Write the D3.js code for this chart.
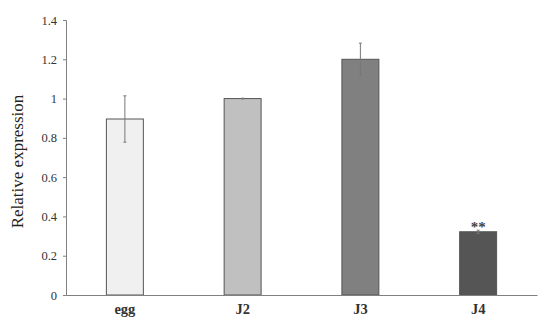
<!DOCTYPE html>
<html>
<head>
<meta charset="utf-8">
<script src="https://cdn.jsdelivr.net/npm/d3@7"></script>
<style>
  body { margin: 0; background: #fff; }
  svg text { font-family: "Liberation Serif", "Times New Roman", Times, serif; }
</style>
</head>
<body>
<div id="chart"></div>
<script>
// data
let stages = ["egg", "J2", "J3", "J4"];
let expression = [0.896, 1.0, 1.2, 0.322];
let errors = [0.118, 0.002, 0.082, 0.008];
let marks = ["", "", "", "**"];
let fills = ["#f0f0f0", "#c0c0c0", "#808080", "#555555"];
let yTicks = [0, 0.2, 0.4, 0.6, 0.8, 1, 1.2, 1.4];

let width = 550;
let height = 328;
let margin = {top: 20, right: 13, bottom: 33, left: 66};

let svg = d3.select("#chart")
    .append("svg")
    .attr("width", width)
    .attr("height", height);

let x = d3.scaleBand()
    .domain(stages)
    .range([margin.left, width - margin.right])
    .paddingInner(0.686)
    .paddingOuter(0.343);

let y = d3.scaleLinear()
    .domain([0, 1.4])
    .range([height - margin.bottom, margin.top]);

// y axis
let yAxis = svg.append("g")
    .attr("transform", `translate(${margin.left},0)`)
    .call(d3.axisLeft(y).tickValues(yTicks).tickSize(3).tickPadding(6)
        .tickFormat(d => String(+d.toFixed(1))));
yAxis.attr("font-family", null);
yAxis.select(".domain").attr("stroke", "#808080");
yAxis.selectAll(".tick line").attr("stroke", "#808080");
yAxis.selectAll(".tick text")
    .attr("font-size", 12.5)
    .attr("fill", "#333");

// bars
let data = stages.map((s, i) => ({stage: s, value: expression[i], err: errors[i], mark: marks[i], fill: fills[i]}));

svg.selectAll(".bar")
    .data(data)
    .enter()
    .append("rect")
    .attr("class", "bar")
    .attr("x", d => x(d.stage))
    .attr("y", d => y(d.value))
    .attr("width", x.bandwidth())
    .attr("height", d => y(0) - y(d.value))
    .attr("fill", d => d.fill)
    .attr("stroke", "#555")
    .attr("stroke-width", 1);

// error bars
let errG = svg.selectAll(".err")
    .data(data)
    .enter()
    .append("g")
    .attr("class", "err")
    .attr("stroke", "#777")
    .attr("stroke-width", 1);
errG.append("line")
    .attr("x1", d => x(d.stage) + x.bandwidth() / 2)
    .attr("x2", d => x(d.stage) + x.bandwidth() / 2)
    .attr("y1", d => y(d.value - d.err))
    .attr("y2", d => y(d.value + d.err));
[-1, 1].forEach(sign => {
    errG.append("line")
        .attr("x1", d => x(d.stage) + x.bandwidth() / 2 - 1.5)
        .attr("x2", d => x(d.stage) + x.bandwidth() / 2 + 1.5)
        .attr("y1", d => y(d.value + sign * d.err))
        .attr("y2", d => y(d.value + sign * d.err));
});

// significance marks
svg.selectAll(".mark")
    .data(data)
    .enter()
    .append("text")
    .attr("class", "mark")
    .attr("x", d => x(d.stage) + x.bandwidth() / 2)
    .attr("y", d => y(d.value + d.err) + 2)
    .attr("text-anchor", "middle")
    .attr("font-size", 15)
    .attr("font-weight", "bold")
    .attr("fill", "#444")
    .text(d => d.mark);

// x axis
let xAxis = svg.append("g")
    .attr("transform", `translate(0,${y(0)})`)
    .call(d3.axisBottom(x).tickSize(0).tickPadding(9));
xAxis.attr("font-family", null);
xAxis.select(".domain").attr("stroke", "#808080");
xAxis.selectAll(".tick text")
    .attr("font-size", 14.5)
    .attr("font-weight", "bold")
    .attr("fill", "#333");

// y title
svg.append("text")
    .attr("transform", `translate(23,${(margin.top + height - margin.bottom) / 2 + 4}) rotate(-90)`)
    .attr("text-anchor", "middle")
    .attr("font-size", 17)
    .attr("fill", "#222")
    .text("Relative expression");
</script>
</body>
</html>
